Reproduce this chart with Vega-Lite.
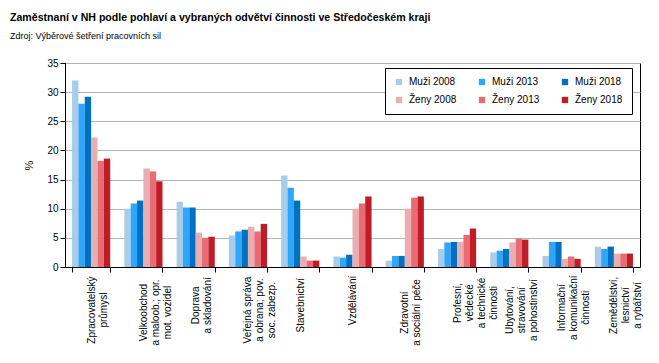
{
  "$schema": "https://vega.github.io/schema/vega-lite/v6.json",
  "width": 575,
  "height": 204,
  "autosize": {"type": "none"},
  "padding": {"left": 65, "top": 63, "right": 19, "bottom": 96},
  "background": "white",
  "title": {
    "text": "Zaměstnaní v NH podle pohlaví a vybraných odvětví činnosti ve Středočeském kraji",
    "subtitle": "Zdroj: Výběrové šetření pracovních sil",
    "anchor": "start",
    "frame": "group",
    "dx": -55,
    "dy": 3,
    "font": "Liberation Sans",
    "fontSize": 10.6,
    "fontWeight": "bold",
    "color": "black",
    "subtitleFont": "Liberation Sans",
    "subtitleFontSize": 9,
    "subtitleColor": "black",
    "subtitlePadding": 8,
    "offset": 20
  },
  "config": {
    "view": {"stroke": "black", "strokeWidth": 1},
    "axis": {
      "labelFont": "Liberation Sans",
      "titleFont": "Liberation Sans",
      "labelColor": "black",
      "titleColor": "black",
      "domainColor": "black",
      "tickColor": "black"
    }
  },
  "data": {
    "values": [
      {"odvetvi": "Zpracovatelský\nprůmysl", "serie": "Muži 2008", "hodnota": 32.0},
      {"odvetvi": "Zpracovatelský\nprůmysl", "serie": "Muži 2013", "hodnota": 28.0},
      {"odvetvi": "Zpracovatelský\nprůmysl", "serie": "Muži 2018", "hodnota": 29.2},
      {"odvetvi": "Zpracovatelský\nprůmysl", "serie": "Ženy 2008", "hodnota": 22.2},
      {"odvetvi": "Zpracovatelský\nprůmysl", "serie": "Ženy 2013", "hodnota": 18.2},
      {"odvetvi": "Zpracovatelský\nprůmysl", "serie": "Ženy 2018", "hodnota": 18.6},
      {"odvetvi": "Velkoobchod\na maloob.; opr.\nmot. vozidel", "serie": "Muži 2008", "hodnota": 10.0},
      {"odvetvi": "Velkoobchod\na maloob.; opr.\nmot. vozidel", "serie": "Muži 2013", "hodnota": 10.9},
      {"odvetvi": "Velkoobchod\na maloob.; opr.\nmot. vozidel", "serie": "Muži 2018", "hodnota": 11.4},
      {"odvetvi": "Velkoobchod\na maloob.; opr.\nmot. vozidel", "serie": "Ženy 2008", "hodnota": 16.9},
      {"odvetvi": "Velkoobchod\na maloob.; opr.\nmot. vozidel", "serie": "Ženy 2013", "hodnota": 16.4},
      {"odvetvi": "Velkoobchod\na maloob.; opr.\nmot. vozidel", "serie": "Ženy 2018", "hodnota": 14.7},
      {"odvetvi": "Doprava\na skladování", "serie": "Muži 2008", "hodnota": 11.2},
      {"odvetvi": "Doprava\na skladování", "serie": "Muži 2013", "hodnota": 10.2},
      {"odvetvi": "Doprava\na skladování", "serie": "Muži 2018", "hodnota": 10.2},
      {"odvetvi": "Doprava\na skladování", "serie": "Ženy 2008", "hodnota": 5.9},
      {"odvetvi": "Doprava\na skladování", "serie": "Ženy 2013", "hodnota": 5.0},
      {"odvetvi": "Doprava\na skladování", "serie": "Ženy 2018", "hodnota": 5.2},
      {"odvetvi": "Veřejná správa\na obrana; pov.\nsoc. zabezp.", "serie": "Muži 2008", "hodnota": 5.4},
      {"odvetvi": "Veřejná správa\na obrana; pov.\nsoc. zabezp.", "serie": "Muži 2013", "hodnota": 6.1},
      {"odvetvi": "Veřejná správa\na obrana; pov.\nsoc. zabezp.", "serie": "Muži 2018", "hodnota": 6.4},
      {"odvetvi": "Veřejná správa\na obrana; pov.\nsoc. zabezp.", "serie": "Ženy 2008", "hodnota": 6.9},
      {"odvetvi": "Veřejná správa\na obrana; pov.\nsoc. zabezp.", "serie": "Ženy 2013", "hodnota": 6.1},
      {"odvetvi": "Veřejná správa\na obrana; pov.\nsoc. zabezp.", "serie": "Ženy 2018", "hodnota": 7.4},
      {"odvetvi": "Stavebnictví", "serie": "Muži 2008", "hodnota": 15.7},
      {"odvetvi": "Stavebnictví", "serie": "Muži 2013", "hodnota": 13.6},
      {"odvetvi": "Stavebnictví", "serie": "Muži 2018", "hodnota": 11.4},
      {"odvetvi": "Stavebnictví", "serie": "Ženy 2008", "hodnota": 1.8},
      {"odvetvi": "Stavebnictví", "serie": "Ženy 2013", "hodnota": 1.1},
      {"odvetvi": "Stavebnictví", "serie": "Ženy 2018", "hodnota": 1.1},
      {"odvetvi": "Vzdělávání", "serie": "Muži 2008", "hodnota": 1.8},
      {"odvetvi": "Vzdělávání", "serie": "Muži 2013", "hodnota": 1.6},
      {"odvetvi": "Vzdělávání", "serie": "Muži 2018", "hodnota": 2.1},
      {"odvetvi": "Vzdělávání", "serie": "Ženy 2008", "hodnota": 10.0},
      {"odvetvi": "Vzdělávání", "serie": "Ženy 2013", "hodnota": 10.9},
      {"odvetvi": "Vzdělávání", "serie": "Ženy 2018", "hodnota": 12.1},
      {"odvetvi": "Zdravotní\na sociální péče", "serie": "Muži 2008", "hodnota": 1.1},
      {"odvetvi": "Zdravotní\na sociální péče", "serie": "Muži 2013", "hodnota": 1.9},
      {"odvetvi": "Zdravotní\na sociální péče", "serie": "Muži 2018", "hodnota": 1.9},
      {"odvetvi": "Zdravotní\na sociální péče", "serie": "Ženy 2008", "hodnota": 10.0},
      {"odvetvi": "Zdravotní\na sociální péče", "serie": "Ženy 2013", "hodnota": 11.9},
      {"odvetvi": "Zdravotní\na sociální péče", "serie": "Ženy 2018", "hodnota": 12.1},
      {"odvetvi": "Profesní,\nvědecké\na technické\nčinnosti", "serie": "Muži 2008", "hodnota": 3.1},
      {"odvetvi": "Profesní,\nvědecké\na technické\nčinnosti", "serie": "Muži 2013", "hodnota": 4.2},
      {"odvetvi": "Profesní,\nvědecké\na technické\nčinnosti", "serie": "Muži 2018", "hodnota": 4.3},
      {"odvetvi": "Profesní,\nvědecké\na technické\nčinnosti", "serie": "Ženy 2008", "hodnota": 4.3},
      {"odvetvi": "Profesní,\nvědecké\na technické\nčinnosti", "serie": "Ženy 2013", "hodnota": 5.5},
      {"odvetvi": "Profesní,\nvědecké\na technické\nčinnosti", "serie": "Ženy 2018", "hodnota": 6.6},
      {"odvetvi": "Ubytování,\nstravování\na pohostinství", "serie": "Muži 2008", "hodnota": 2.5},
      {"odvetvi": "Ubytování,\nstravování\na pohostinství", "serie": "Muži 2013", "hodnota": 2.8},
      {"odvetvi": "Ubytování,\nstravování\na pohostinství", "serie": "Muži 2018", "hodnota": 3.1},
      {"odvetvi": "Ubytování,\nstravování\na pohostinství", "serie": "Ženy 2008", "hodnota": 4.2},
      {"odvetvi": "Ubytování,\nstravování\na pohostinství", "serie": "Ženy 2013", "hodnota": 4.9},
      {"odvetvi": "Ubytování,\nstravování\na pohostinství", "serie": "Ženy 2018", "hodnota": 4.7},
      {"odvetvi": "Informační\na komunikační\nčinnosti", "serie": "Muži 2008", "hodnota": 1.9},
      {"odvetvi": "Informační\na komunikační\nčinnosti", "serie": "Muži 2013", "hodnota": 4.3},
      {"odvetvi": "Informační\na komunikační\nčinnosti", "serie": "Muži 2018", "hodnota": 4.3},
      {"odvetvi": "Informační\na komunikační\nčinnosti", "serie": "Ženy 2008", "hodnota": 1.4},
      {"odvetvi": "Informační\na komunikační\nčinnosti", "serie": "Ženy 2013", "hodnota": 1.8},
      {"odvetvi": "Informační\na komunikační\nčinnosti", "serie": "Ženy 2018", "hodnota": 1.4},
      {"odvetvi": "Zemědělství,\nlesnictví\na rybářství", "serie": "Muži 2008", "hodnota": 3.5},
      {"odvetvi": "Zemědělství,\nlesnictví\na rybářství", "serie": "Muži 2013", "hodnota": 3.1},
      {"odvetvi": "Zemědělství,\nlesnictví\na rybářství", "serie": "Muži 2018", "hodnota": 3.5},
      {"odvetvi": "Zemědělství,\nlesnictví\na rybářství", "serie": "Ženy 2008", "hodnota": 2.3},
      {"odvetvi": "Zemědělství,\nlesnictví\na rybářství", "serie": "Ženy 2013", "hodnota": 2.3},
      {"odvetvi": "Zemědělství,\nlesnictví\na rybářství", "serie": "Ženy 2018", "hodnota": 2.3}
    ]
  },
  "mark": {"type": "bar"},
  "encoding": {
    "x": {
      "field": "odvetvi",
      "type": "nominal",
      "sort": null,
      "scale": {"paddingInner": 0.27, "paddingOuter": 0.135},
      "axis": {
        "title": null,
        "labelAngle": 270,
        "labelAlign": "center",
        "labelBaseline": "middle",
        "labelFontSize": 10,
        "labelLineHeight": 12,
        "labelPadding": {"expr": "4 + 2.4 * max(length(split(datum.value, '\\n')[0]), length(split(datum.value, '\\n')[1] || ''), length(split(datum.value, '\\n')[2] || ''), length(split(datum.value, '\\n')[3] || ''))"},
        "tickSize": 5,
        "tickBand": "extent",
        "labelExpr": "split(datum.label, '\\n')",
        "domainColor": "black"
      }
    },
    "xOffset": {
      "field": "serie",
      "type": "nominal",
      "sort": ["Muži 2008", "Muži 2013", "Muži 2018", "Ženy 2008", "Ženy 2013", "Ženy 2018"],
      "scale": {"paddingInner": 0, "paddingOuter": 0}
    },
    "y": {
      "field": "hodnota",
      "type": "quantitative",
      "scale": {"domain": [0, 35], "nice": false},
      "axis": {
        "title": "%",
        "titleFontWeight": "normal",
        "titleFontSize": 11,
        "titlePadding": 12,
        "values": [0, 5, 10, 15, 20, 25, 30, 35],
        "labelFontSize": 10,
        "labelPadding": 2,
        "tickSize": 5,
        "grid": true,
        "gridColor": "#b4b4b4",
        "gridWidth": 1
      }
    },
    "color": {
      "field": "serie",
      "type": "nominal",
      "sort": ["Muži 2008", "Muži 2013", "Muži 2018", "Ženy 2008", "Ženy 2013", "Ženy 2018"],
      "scale": {
        "domain": ["Muži 2008", "Muži 2013", "Muži 2018", "Ženy 2008", "Ženy 2013", "Ženy 2018"],
        "range": ["#a9cde9", "#2da6fc", "#0070c0", "#e8aeb2", "#e96b73", "#c01c26"]
      },
      "legend": {
        "title": null,
        "orient": "none",
        "legendX": 320,
        "legendY": 5,
        "columns": 3,
        "direction": "horizontal",
        "symbolType": "square",
        "symbolSize": 40,
        "symbolStrokeWidth": 0,
        "labelFont": "Liberation Sans",
        "labelFontSize": 10,
        "labelColor": "black",
        "labelOffset": 5,
        "columnPadding": 20,
        "rowPadding": 8,
        "padding": 9,
        "fillColor": "white",
        "strokeColor": "black"
      }
    }
  }
}
